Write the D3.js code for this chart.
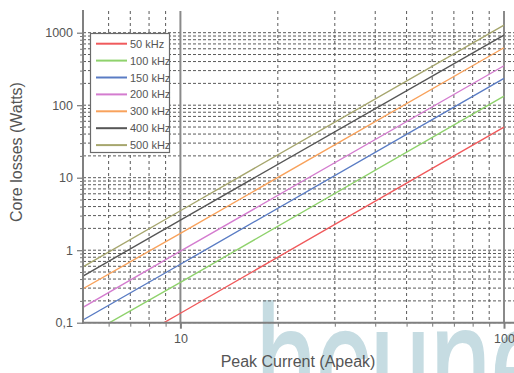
<!DOCTYPE html>
<html>
<head>
<meta charset="utf-8">
<script src="https://cdn.jsdelivr.net/npm/d3@7"></script>
<style>
  html, body { margin: 0; padding: 0; background: #fff; }
  svg { display: block; font-family: "Liberation Sans", Arial, sans-serif; }
</style>
</head>
<body>
<svg id="chart" width="514" height="373"></svg>
<script>
// Peak current (A) at which each curve is sampled
const currents = [5, 10, 100];

// Core losses (W) per switching frequency
const loss50  = [0.023, 0.135, 50];
const loss100 = [0.062, 0.36, 133];
const loss150 = [0.109, 0.64, 235];
const loss200 = [0.163, 0.97, 350];
const loss300 = [0.294, 1.71, 620];
const loss400 = [0.44, 2.6, 928];
const loss500 = [0.59, 3.5, 1275];

const seriesNames = ["50 kHz", "100 kHz", "150 kHz", "200 kHz", "300 kHz", "400 kHz", "500 kHz"];
const seriesValues = [loss50, loss100, loss150, loss200, loss300, loss400, loss500];
const seriesColors = ["#f05a5c", "#8fd26c", "#5a7cc4", "#d47ccf", "#f8a25c", "#565656", "#a6a66e"];

const xTickValues = [10, 100];
const xTickLabels = ["10", "100"];
const yTickValues = [0.1, 1, 10, 100, 1000];
const yTickLabels = ["0,1", "1", "10", "100", "1000"];

(function () {
const W = 514, H = 373;
const mLeft = 83, mRight = 504, mBottom = 322.7, mTop = 32.7, plotTop = 10;

const svg = d3.select("#chart");

const x = d3.scaleLog().domain([5, 100]).range([mLeft, mRight]);
const y = d3.scaleLog().domain([0.1, 1000]).range([mBottom, mTop]);

// minor/major grid values
const yGrid = [];
[0.1, 1, 10, 100].forEach(d => { for (let k = 1; k <= 9; k++) yGrid.push(+(d * k).toPrecision(3)); });
yGrid.push(1000);
const xMinor = [6, 7, 8, 9, 20, 30, 40, 50, 60, 70, 80, 90];

// site watermark, condensed and cut off by the bottom edge
svg.append("text")
  .attr("transform", "translate(256,419) scale(0.66,1)")
  .attr("font-family", "Liberation Sans, Arial, sans-serif")
  .attr("font-size", 164)
  .attr("fill", "#c6dce2")
  .attr("stroke", "#c6dce2")
  .attr("stroke-width", 2)
  .text("hcune");

// horizontal dashed grid
svg.append("g").selectAll("line").data(yGrid).join("line")
  .attr("x1", mLeft).attr("x2", W)
  .attr("y1", d => y(d)).attr("y2", d => y(d))
  .attr("stroke", "#5a5a5a").attr("stroke-width", 1)
  .attr("stroke-dasharray", "3,2");

// vertical dashed grid
svg.append("g").selectAll("line").data(xMinor).join("line")
  .attr("x1", d => x(d)).attr("x2", d => x(d))
  .attr("y1", plotTop + 1).attr("y2", mBottom)
  .attr("stroke", "#5a5a5a").attr("stroke-width", 1)
  .attr("stroke-dasharray", "3,3");

// solid decade lines
svg.append("g").selectAll("line").data(xTickValues).join("line")
  .attr("x1", d => x(d)).attr("x2", d => x(d))
  .attr("y1", plotTop + 1).attr("y2", mBottom)
  .attr("stroke", "#8a8a8a").attr("stroke-width", 2);

// series
svg.append("clipPath").attr("id", "plot-clip")
  .append("rect").attr("x", mLeft).attr("y", plotTop).attr("width", W - mLeft).attr("height", mBottom - plotTop);

const line = d3.line().x(d => x(d[0])).y(d => y(d[1]));
svg.append("g").attr("clip-path", "url(#plot-clip)")
  .selectAll("path").data(seriesValues).join("path")
  .attr("d", vals => line(currents.map((c, i) => [c, vals[i]])))
  .attr("fill", "none")
  .attr("stroke", (d, i) => seriesColors[i])
  .attr("stroke-width", 1.4);

// y axis
const yMinorAxis = svg.append("g").attr("transform", `translate(${mLeft},0)`)
  .call(d3.axisLeft(y).tickValues(yGrid.filter(v => !yTickValues.includes(v))).tickSize(3).tickFormat(""));
yMinorAxis.select(".domain").remove();
yMinorAxis.selectAll(".tick line").attr("stroke", "#777");
const yMajor = svg.append("g").attr("transform", `translate(${mLeft},0)`)
  .call(d3.axisLeft(y).tickValues(yTickValues).tickSize(6).tickPadding(4)
    .tickFormat((d, i) => yTickLabels[i]));
yMajor.select(".domain").remove();
yMajor.selectAll(".tick line").attr("stroke", "#777").attr("stroke-width", 1.2);
yMajor.selectAll(".tick text").attr("fill", "#555").attr("font-size", 12.5)
  .attr("font-family", "Liberation Sans, Arial, sans-serif");
svg.append("line").attr("x1", mLeft).attr("x2", mLeft).attr("y1", plotTop).attr("y2", mBottom + 1)
  .attr("stroke", "#808080").attr("stroke-width", 2);

// x axis
const xAxisMinor = svg.append("g").attr("transform", `translate(0,${mBottom})`)
  .call(d3.axisBottom(x).tickValues(xMinor).tickSize(4).tickFormat(""));
xAxisMinor.select(".domain").remove();
xAxisMinor.selectAll(".tick line").attr("stroke", "#777");
const xAxisMajor = svg.append("g").attr("transform", `translate(0,${mBottom})`)
  .call(d3.axisBottom(x).tickValues(xTickValues).tickSize(6).tickPadding(5)
    .tickFormat((d, i) => xTickLabels[i]));
xAxisMajor.select(".domain").remove();
xAxisMajor.selectAll(".tick line").attr("stroke", "#808080").attr("stroke-width", 2);
xAxisMajor.selectAll(".tick text").attr("fill", "#555").attr("font-size", 12.5)
  .attr("font-family", "Liberation Sans, Arial, sans-serif");
svg.append("line").attr("x1", mLeft - 1).attr("x2", W).attr("y1", mBottom).attr("y2", mBottom)
  .attr("stroke", "#808080").attr("stroke-width", 2);

// axis titles
svg.append("text")
  .attr("x", 298).attr("y", 367)
  .attr("text-anchor", "middle")
  .attr("font-size", 16).attr("fill", "#555")
  .text("Peak Current (Apeak)");
svg.append("text")
  .attr("transform", "translate(21.5,152) rotate(-90)")
  .attr("text-anchor", "middle")
  .attr("font-size", 16).attr("fill", "#555")
  .text("Core losses (Watts)");

// legend
const lg = svg.append("g");
lg.append("rect")
  .attr("x", 90.5).attr("y", 33.5).attr("width", 79).attr("height", 119)
  .attr("fill", "#fff").attr("stroke", "#6a6a6a").attr("stroke-width", 1.2);
const rows = lg.selectAll("g.row").data(seriesNames).join("g")
  .attr("class", "row")
  .attr("transform", (d, i) => `translate(0,${43.7 + i * 16.9})`);
rows.append("line")
  .attr("x1", 96).attr("x2", 127)
  .attr("stroke", (d, i) => seriesColors[i]).attr("stroke-width", 2);
rows.append("text")
  .attr("x", 130).attr("y", 4)
  .attr("font-size", 11).attr("fill", "#555")
  .text(d => d);
})();
</script>
</body>
</html>
